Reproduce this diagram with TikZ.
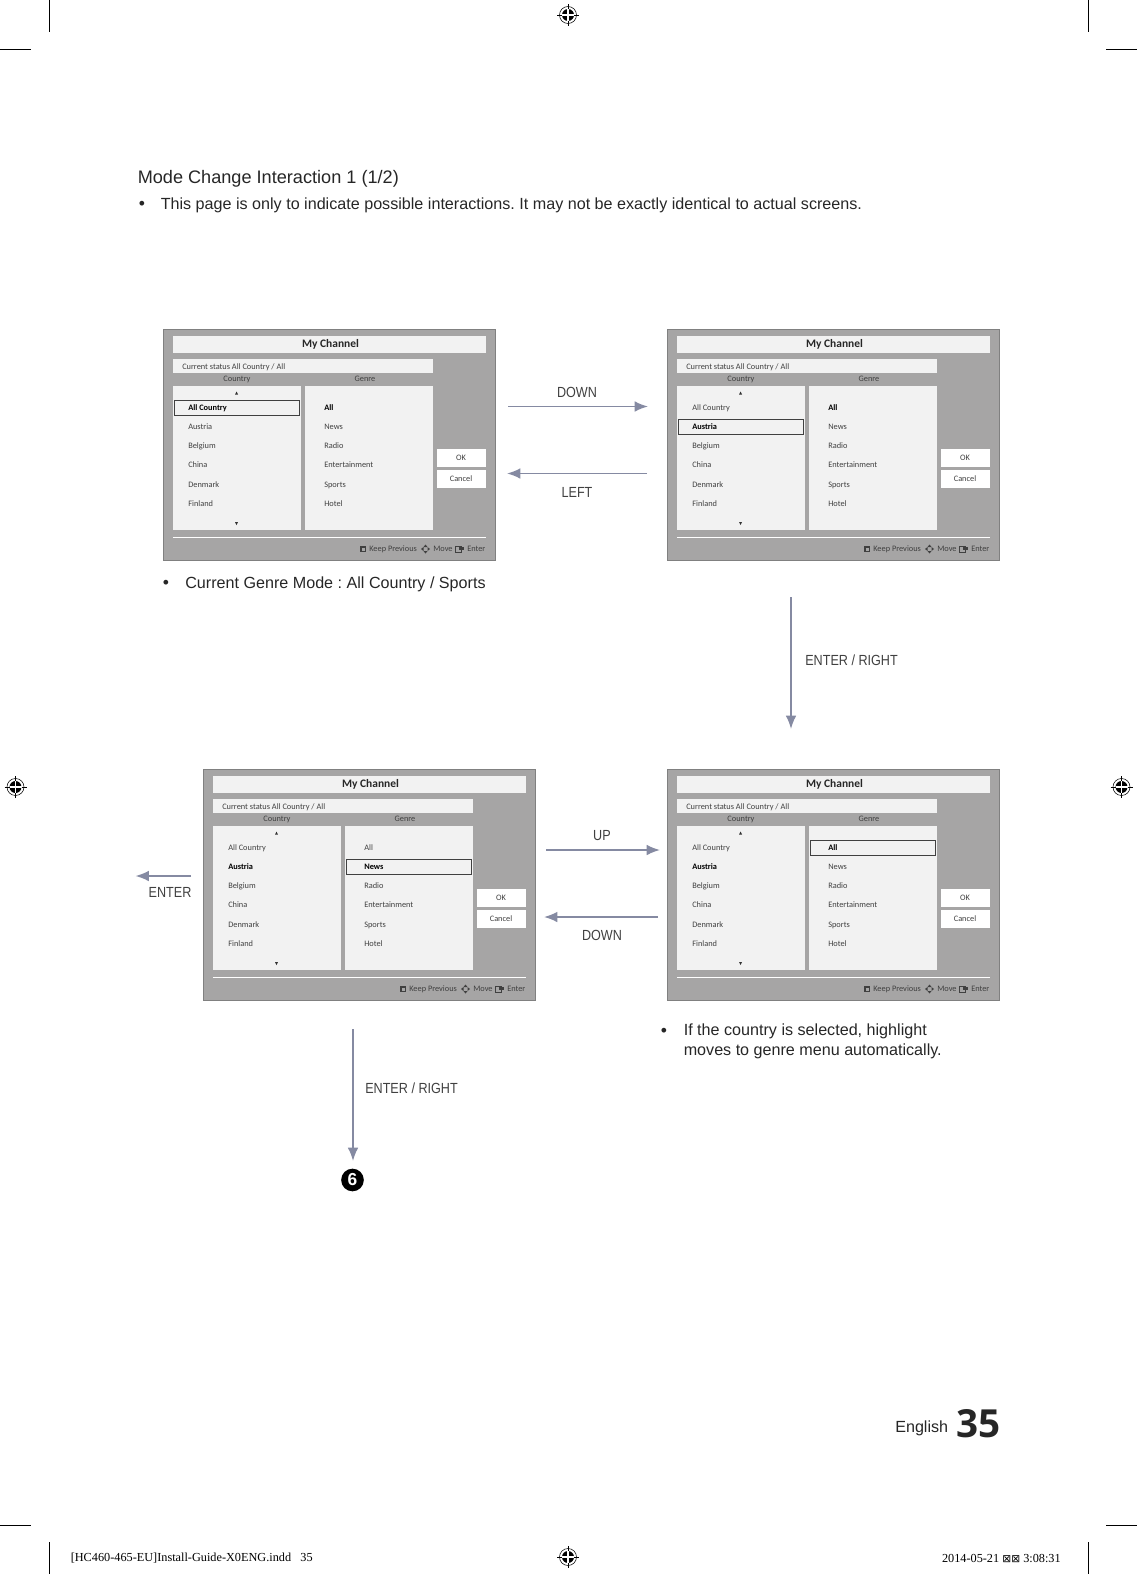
\documentclass[tikz,border=0pt]{standalone}
\usepackage{fontspec}
\setmainfont{Liberation Sans}
\newfontfamily\panelfont{Carlito}
\newfontfamily\slugfont{Liberation Serif}
\newfontfamily\boxfont{DejaVu Sans}
\newfontfamily\folio{Open Sans}
\newfontfamily\narrowfont[FakeStretch=0.86]{Liberation Sans}
\usetikzlibrary{arrows.meta,positioning,calc}
\definecolor{panelgrey}{HTML}{A6A5A5}
\definecolor{paneledge}{HTML}{808080}
\definecolor{panellight}{HTML}{F2F2F2}
\definecolor{paneltext}{HTML}{404040}
\definecolor{arrowcol}{HTML}{858AA2}
\definecolor{labelcol}{HTML}{404040}
\tikzset{
  flowarrow/.style={-{Latex[length=10pt,width=8pt]},draw=arrowcol,line width=1.3pt},
  flowlabel/.style={text=labelcol,font=\narrowfont\fontsize{11}{13}\selectfont,inner sep=0pt},
  bodytext/.style={text=black!85,inner sep=0pt,anchor=west,font=\fontsize{12.1}{15}\selectfont,align=left},
  bulletdot/.style={text=black!85,inner sep=0pt,font=\fontsize{13.2}{15}\selectfont},
  paneltxt/.style={text=paneltext,inner sep=0pt,text height=4.4pt,text depth=1.3pt,font=\panelfont\fontsize{6.25}{8}\selectfont},
  panelbtn/.style={paneltxt,fill=white,minimum width=36.75pt,minimum height=13.5pt},
  cropline/.style={draw=black,line width=0.6pt},
  slugtext/.style={inner sep=0pt,font=\slugfont\fontsize{9.2}{11}\selectfont}
}
% printer's registration mark
\newcommand{\regmark}[2]{%
  \begin{scope}[shift={(#1,#2)}]
    \draw[line width=0.4pt] (0,0) circle (8.5);
    \fill[black] (0,0) circle (6);
    \draw[white,line width=0.8pt] (-6,0) -- (6,0) (0,-6) -- (0,6);
    \draw[line width=0.5pt] (-11,0) -- (-6,0) (6,0) -- (11,0) (0,-11) -- (0,-6) (0,6) -- (0,11);
  \end{scope}}
% #1 name, #2 #3 top left, #4 bold country, #5 bold genre, #6 row of the box, #7 column of the box (0 country, 1 genre)
\newcommand{\channelpanel}[7]{%
  \begin{scope}[shift={(#2,#3)}]
    \fill[panelgrey] (0,1.5) rectangle (332,232);
    \draw[paneledge,line width=0.7pt] (0,1.5) rectangle (332,232);
    \fill[panellight] (10,8) rectangle (323,25);
    \node[paneltxt,text=black!85,font=\panelfont\bfseries\fontsize{8.6}{10}\selectfont] (#1-title) at (167.5,17.5) {My Channel};
    \fill[panellight] (10,31) rectangle (270,45);
    \node[paneltxt,anchor=west] (#1-status) at (19,39.5) {Current status All Country / All};
    \node[paneltxt] (#1-country) at (74,51) {Country};
    \node[paneltxt] (#1-genre) at (202,51) {Genre};
    \fill[panellight] (10,58) rectangle (138,202);
    \fill[panellight] (142,58) rectangle (270,202);
    \fill[black!80] (73.5,63.5) -- (75,66.5) -- (72,66.5) -- cycle;
    \fill[black!80] (73.5,197) -- (75,194) -- (72,194) -- cycle;
    \foreach \ci/\cy/\cname in {1/80/All Country,2/99/Austria,3/118/Belgium,4/137/China,5/157/Denmark,6/176/Finland}
      \node[paneltxt,anchor=west] (#1-c\ci) at (25,\cy) {\ifnum\ci=#4 \bfseries\color{black}\fi\cname};
    \foreach \gi/\gy/\gname in {1/80/All,2/99/News,3/118/Radio,4/137/Entertainment,5/157/Sports,6/176/Hotel}
      \node[paneltxt,anchor=west] (#1-g\gi) at (161,\gy) {\ifnum\gi=#5 \bfseries\color{black}\fi\gname};
    \pgfmathsetmacro{\boxleft}{#7==0 ? 11 : 143}
    \pgfmathsetmacro{\boxy}{(#6==1 ? 79.5 : 98.5)}
    \draw[black!75,line width=0.6pt] (\boxleft,\boxy-7.5) rectangle (\boxleft+125,\boxy+7.5);
    \node[panelbtn] (#1-ok) at (298,130) {OK};
    \node[panelbtn] (#1-cancel) at (298,151) {Cancel};
    \draw[white,line width=0.6pt] (10,209) -- (323,209);
    \fill[black!75] (197,218) rectangle (203,224);
    \fill[black!35] (198.5,219.5) rectangle (201.5,222.5);
    \node[paneltxt,anchor=west] (#1-keep) at (206,221) {Keep Previous};
    \foreach \ra in {0,90,180,270}
      \fill[black!75,rotate around={\ra:(262.5,221)}] (264.5,219) -- (267,221) -- (264.5,223) -- cycle;
    \node[paneltxt,anchor=west] (#1-move) at (270,221) {Move};
    \draw[black!75,line width=0.5pt] (292,218) rectangle (298,224);
    \fill[black!75] (296,219) -- (301,219) -- (301,222) -- (296,222) -- cycle;
    \node[paneltxt,anchor=west] (#1-enter) at (304,221) {Enter};
  \end{scope}}
\begin{document}
\frenchspacing
\begin{tikzpicture}[x=0.75pt,y=-0.75pt]
  \useasboundingbox (0,0) rectangle (1137,1574);

  % crop marks
  \draw[cropline] (49.5,0) -- (49.5,32) (0,49.5) -- (31,49.5);
  \draw[cropline] (1088,0) -- (1088,32) (1106,49.5) -- (1137,49.5);
  \draw[cropline] (49.5,1542) -- (49.5,1574) (0,1525) -- (31,1525);
  \draw[cropline] (1088,1542) -- (1088,1574) (1106,1525) -- (1137,1525);
  \regmark{568}{15}
  \regmark{568}{1557}
  \regmark{15.5}{787}
  \regmark{1121.5}{787}

  % heading
  \node[bodytext,font=\fontsize{13.6}{16}\selectfont] (heading) at (137.5,178.5) {Mode Change Interaction 1 (1/2)};
  \node[bulletdot] (dot1) at (142,205) {•};
  \node[bodytext] (note1) at (160.5,205) {This page is only to indicate possible interactions. It may not be exactly identical to actual screens.};

  % panels
  \channelpanel{allcountry}{163}{328}{1}{1}{1}{0}
  \channelpanel{austria}{667}{328}{2}{1}{2}{0}
  \channelpanel{news}{203}{768}{2}{2}{2}{1}
  \channelpanel{allgenre}{667}{768}{2}{1}{1}{1}

  \node[bulletdot] (dot2) at (166,584) {•};
  \node[bodytext] (note2) at (185,584) {Current Genre Mode : All Country / Sports};
  \node[bulletdot] (dot3) at (664,1032) {•};
  \node[bodytext,anchor=north west] (note3) at (683.5,1024) {If the country is selected, highlight\\moves to genre menu automatically.};

  % connectors
  \coordinate (downa) at (508,406.5);
  \coordinate (downb) at (648,406.5);
  \coordinate (lefta) at (647,473.5);
  \coordinate (leftb) at (507,473.5);
  \coordinate (enta) at (791,597);
  \coordinate (entb) at (791,729);
  \coordinate (upa) at (546,850);
  \coordinate (upb) at (660,850);
  \coordinate (dna) at (658,917);
  \coordinate (dnb) at (544,917);
  \coordinate (lefta2) at (191,876);
  \coordinate (leftb2) at (135.5,876);
  \coordinate (enta2) at (353,1029);
  \node[fill=black,text=white,circle,inner sep=0pt,minimum size=17pt,font=\bfseries\fontsize{13}{13}\selectfont] (six) at (352.5,1180) {6};
  \coordinate (entb2) at (353,1161);
  \draw[flowarrow] (downa) -- (downb);
  \draw[flowarrow] (lefta) -- (leftb);
  \draw[flowarrow] (enta) -- (entb);
  \draw[flowarrow] (upa) -- (upb);
  \draw[flowarrow] (dna) -- (dnb);
  \draw[flowarrow] (lefta2) -- (leftb2);
  \draw[flowarrow] (enta2) -- (entb2);

  \node[flowlabel] (lbdown) at (577,392) {DOWN};
  \node[flowlabel] (lbleft) at (577,492) {LEFT};
  \node[flowlabel,anchor=west] (lbent) at (805,660.5) {ENTER / RIGHT};
  \node[flowlabel] (lbup) at (602,835.5) {UP};
  \node[flowlabel] (lbdn) at (602,935.5) {DOWN};
  \node[flowlabel] (lbent2) at (170,892.5) {ENTER};
  \node[flowlabel,anchor=west] (lbent3) at (365,1088) {ENTER / RIGHT};

  % folio and slug
  \node[bodytext,anchor=base west] (lang) at (895,1432) {English};
  \node[inner sep=0pt,anchor=base west,text=black!85,font=\folio\bfseries\fontsize{29}{29}\selectfont] (page) at (956,1437) {35};
  \node[slugtext,anchor=west] (slugl) at (70.5,1558) {[HC460-465-EU]Install-Guide-X0ENG.indd\ \ \ 35};
  \node[slugtext,anchor=east] (slugr) at (1061,1558) {2014-05-21\ {\boxfont\fontsize{8}{8}\selectfont ⊠⊠} 3:08:31};
\end{tikzpicture}
\end{document}
